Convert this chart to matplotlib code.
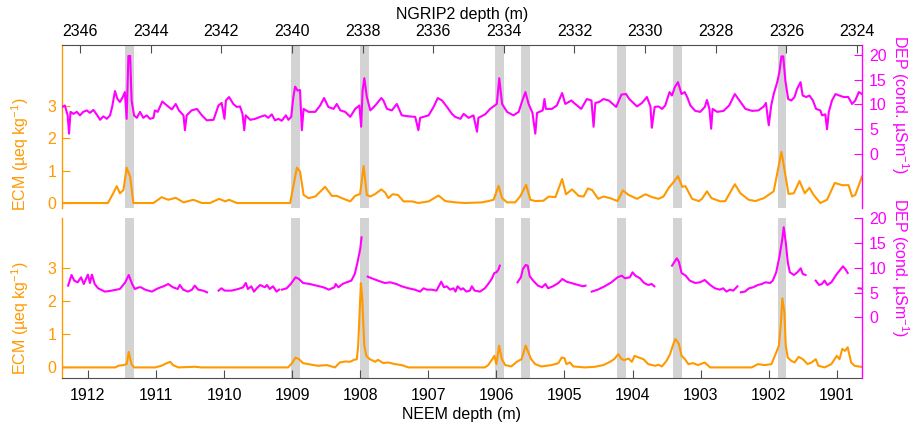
import numpy as np
import matplotlib
matplotlib.use('Agg')
import matplotlib.pyplot as plt
from matplotlib.patches import Rectangle
from matplotlib.transforms import blended_transform_factory

plt.rcParams['font.family'] = 'Liberation Sans'
plt.rcParams['mathtext.fontset'] = 'custom'
plt.rcParams['mathtext.rm'] = 'Liberation Sans'
plt.rcParams['mathtext.it'] = 'Liberation Sans:italic'
plt.rcParams['font.size'] = 11.5

ORANGE = '#FF9900'
MAGENTA = '#FF00FF'
BAND = '#D3D3D3'
AXC = '0.3'

#========== NGRIP2 (top panel), depth in m ==========
ecm_top_depth = [2346.51, 2345.21, 2345.06, 2344.96, 2344.87, 2344.77, 2344.68, 2344.58, 2344.49, 2343.92,
                 2343.69, 2343.50, 2343.29, 2343.07, 2342.79, 2342.55, 2342.32, 2342.06, 2341.89, 2341.78,
                 2341.56, 2340.05, 2339.86, 2339.77, 2339.67, 2339.53, 2339.34, 2339.06, 2338.87, 2338.73,
                 2338.54, 2338.35, 2338.21, 2338.07, 2337.97, 2337.88, 2337.78, 2337.64, 2337.47, 2337.36,
                 2337.27, 2337.15, 2337.00, 2336.84, 2336.60, 2336.42, 2336.13, 2335.85, 2335.66, 2335.38,
                 2335.09, 2334.62, 2334.43, 2334.29, 2334.15, 2334.05, 2333.91, 2333.68, 2333.54, 2333.37,
                 2333.25, 2333.11, 2332.88, 2332.73, 2332.54, 2332.35, 2332.24, 2332.07, 2331.88, 2331.74,
                 2331.62, 2331.50, 2331.33, 2331.18, 2330.99, 2330.78, 2330.63, 2330.47, 2330.23, 2329.99,
                 2329.80, 2329.62, 2329.48, 2329.33, 2329.19, 2329.07, 2328.95, 2328.86, 2328.67, 2328.48,
                 2328.39, 2328.25, 2328.12, 2327.87, 2327.73, 2327.46, 2327.30, 2327.07, 2326.88, 2326.64,
                 2326.36, 2326.14, 2325.94, 2325.79, 2325.63, 2325.48, 2325.35, 2325.23, 2325.04, 2324.85,
                 2324.63, 2324.42, 2324.24, 2324.14, 2324.05, 2323.86]
ecm_top = [0, 0, 0.3, 0.52, 0.3, 0.4, 1.09, 0.81, 0, 0,
           0.18, 0.1, 0.16, 0.02, 0.1, 0, 0, 0.13, 0.05, 0.1,
           0, 0, 1.09, 0.97, 0.25, 0.15, 0.2, 0.5, 0.22, 0.22,
           0.13, 0.05, 0.22, 0.28, 1.14, 0.25, 0.2, 0.28, 0.42, 0.32,
           0.15, 0.27, 0.25, 0.05, 0.05, 0, 0.05, 0.23, 0.06, 0.02,
           0, 0.02, 0.06, 0.1, 0.53, 0.15, 0.02, 0.02, 0.2, 0.56,
           0.1, 0.06, 0.07, 0.2, 0.18, 0.74, 0.27, 0.42, 0.22, 0.2,
           0.45, 0.4, 0.13, 0.2, 0.15, 0.06, 0.39, 0.25, 0.13, 0.27,
           0.18, 0.13, 0.2, 0.47, 0.65, 0.83, 0.5, 0.52, 0.13, 0.06,
           0.13, 0.36, 0.15, 0.05, 0.06, 0.58, 0.3, 0.1, 0.06, 0.15,
           0.36, 1.58, 0.28, 0.3, 0.68, 0.3, 0.47, 0.25, 0, 0.1,
           0.62, 0.55, 0.55, 0.2, 0.25, 0.82]

dep_top_depth = [2346.50, 2346.43, 2346.35, 2346.31, 2346.27, 2346.19, 2346.09, 2346.00, 2345.91, 2345.81,
                 2345.72, 2345.62, 2345.53, 2345.43, 2345.34, 2345.24, 2345.15, 2345.09, 2345.01, 2344.94,
                 2344.87, 2344.79, 2344.73, 2344.68, 2344.63, 2344.58, 2344.54, 2344.47, 2344.39, 2344.30,
                 2344.21, 2344.11, 2344.02, 2343.92, 2343.88, 2343.80, 2343.67, 2343.54, 2343.40, 2343.29,
                 2343.20, 2343.07, 2343.03, 2342.98, 2342.84, 2342.69, 2342.55, 2342.41, 2342.22, 2342.08,
                 2341.99, 2341.91, 2341.87, 2341.78, 2341.66, 2341.56, 2341.47, 2341.40, 2341.35, 2341.31,
                 2341.18, 2341.04,
                 2340.90, 2340.76, 2340.67, 2340.57, 2340.48, 2340.38, 2340.29, 2340.17, 2340.10, 2340.02,
                 2339.96, 2339.91, 2339.84, 2339.77, 2339.72, 2339.67, 2339.53, 2339.34, 2339.20, 2339.09,
                 2338.97, 2338.82, 2338.73, 2338.63, 2338.49, 2338.35, 2338.21, 2338.09, 2338.04, 2338.00,
                 2337.95, 2337.88, 2337.78, 2337.64, 2337.47, 2337.41, 2337.31, 2337.17, 2337.03, 2336.89,
                 2336.70, 2336.51, 2336.42, 2336.37, 2336.13, 2335.99, 2335.87, 2335.75, 2335.61, 2335.47,
                 2335.38, 2335.23, 2335.14, 2335.00, 2334.86, 2334.76, 2334.72, 2334.53, 2334.39, 2334.26,
                 2334.20, 2334.13, 2334.05, 2333.91, 2333.73, 2333.58, 2333.49, 2333.39, 2333.30, 2333.19,
                 2333.11, 2333.06, 2332.90, 2332.85, 2332.81, 2332.64, 2332.50, 2332.35, 2332.26, 2332.09,
                 2331.98, 2331.81, 2331.65, 2331.52, 2331.46, 2331.41, 2331.30, 2331.18, 2331.03, 2330.82,
                 2330.67, 2330.54, 2330.45, 2330.23, 2330.09, 2329.95, 2329.85, 2329.81, 2329.73,
                 2329.62, 2329.52, 2329.43, 2329.31, 2329.24, 2329.16, 2329.07, 2328.97, 2328.88, 2328.81,
                 2328.72, 2328.58, 2328.44, 2328.31, 2328.25, 2328.18, 2328.13, 2328.09, 2327.96, 2327.78,
                 2327.62, 2327.46, 2327.30, 2327.16, 2326.97, 2326.79, 2326.64, 2326.58, 2326.50, 2326.43,
                 2326.36, 2326.26, 2326.20, 2326.14, 2326.09, 2326.03, 2325.95, 2325.86, 2325.77, 2325.70,
                 2325.60, 2325.54, 2325.44, 2325.35, 2325.25, 2325.16, 2325.04, 2324.99, 2324.90, 2324.85,
                 2324.80, 2324.71, 2324.61, 2324.50, 2324.38, 2324.25, 2324.14, 2324.05, 2323.95, 2323.86]
dep_top = [9.5, 9.8, 7.8, 4.1, 8.5, 8.1, 8.5, 7.8, 8.5, 8.8,
           8.3, 8.9, 8.0, 6.9, 7.6, 7.1, 7.8, 9.5, 12.7, 11.1,
           10.5, 11.5, 12.5, 7.1, 19.8, 19.8, 10.8, 7.8, 7.3, 8.5,
           7.3, 7.8, 7.1, 7.3, 8.8, 8.5, 10.6, 9.8, 9.0, 10.1,
           8.8, 7.8, 4.8, 7.8, 8.8, 9.1, 7.8, 6.8, 6.9, 9.8,
           10.3, 7.1, 10.8, 11.5, 10.1, 9.5, 9.6, 8.1, 4.8, 7.8,
           6.9, 7.1,
           7.5, 7.8, 7.3, 8.0, 6.8, 7.1, 6.7, 7.8, 6.9, 7.5,
           11.5, 13.6, 12.8, 12.9, 4.8, 9.1, 8.5, 8.5, 9.8, 11.3,
           9.5, 9.1, 10.1, 8.8, 8.5, 7.5, 9.1, 9.8, 5.5, 12.8,
           15.3, 11.5, 8.8, 9.8, 11.3, 10.8, 9.1, 8.8, 10.1, 7.8,
           7.6, 7.5, 4.8, 7.3, 7.8, 9.5, 11.3, 10.8, 9.5, 8.1,
           7.5, 7.1, 8.1, 7.3, 7.8, 4.5, 7.3, 8.0, 9.1, 9.8,
           10.1, 15.3, 10.1, 8.5, 7.8, 8.5, 10.5, 12.5, 10.1, 8.3,
           4.1, 8.3, 8.8, 11.1, 9.1, 9.1, 9.8, 12.3, 10.1, 10.8,
           10.1, 9.1, 11.1, 10.8, 5.5, 10.3, 10.5, 11.1, 10.8, 9.5,
           12.0, 12.1, 11.1, 9.6, 10.3, 11.5, 9.6, 5.3, 9.5,
           9.6, 9.1, 9.8, 12.5, 11.8, 13.5, 14.5, 12.1, 12.5, 11.5,
           9.8, 8.7, 8.5, 9.5, 10.9, 9.1, 5.1, 9.1, 8.5, 8.7,
           9.8, 12.1, 10.5, 9.1, 8.7, 8.8, 9.6, 10.3, 5.8, 9.8,
           12.1, 14.5, 16.5, 19.7, 19.7, 14.8, 11.1, 10.8, 11.5, 13.1,
           14.5, 11.8, 11.5, 11.8, 10.8, 9.1, 8.8, 7.8, 8.0, 5.0,
           8.5, 10.8, 12.1, 11.8, 11.5, 11.5, 10.1, 10.8, 12.5, 12.1]

#========== NEEM (bottom panel), depth in m, nan = no data ==========
ecm_bot_depth = [1912.38, 1911.60, 1911.55, 1911.48, 1911.43, 1911.40, 1911.36, 1911.32, 1911.01, 1910.92,
                 1910.84, 1910.79, 1910.75, 1910.67, 1910.43, 1910.33, 1909.06, 1909.00, 1908.95, 1908.90,
                 1908.84, 1908.71, 1908.62, 1908.49, 1908.37, 1908.30, 1908.22, 1908.15, 1908.09, 1908.05,
                 1908.03, 1908.00, 1907.99, 1907.97, 1907.94, 1907.91, 1907.86, 1907.78, 1907.74, 1907.66,
                 1907.59, 1907.49, 1907.39, 1907.29, 1906.17, 1906.12, 1906.06, 1906.03, 1906.00, 1905.96,
                 1905.92, 1905.87, 1905.78, 1905.70, 1905.63, 1905.60, 1905.57, 1905.53, 1905.49, 1905.43,
                 1905.34, 1905.19, 1905.09, 1905.04, 1905.00, 1904.97, 1904.92, 1904.87, 1904.70, 1904.55,
                 1904.43, 1904.33, 1904.27, 1904.21, 1904.16, 1904.12, 1904.06, 1904.01, 1903.97, 1903.91,
                 1903.84, 1903.77, 1903.67, 1903.62, 1903.57, 1903.50, 1903.45, 1903.40, 1903.37, 1903.32,
                 1903.28, 1903.23, 1903.18, 1903.11, 1903.04, 1902.94, 1902.86, 1902.25, 1902.16, 1902.06,
                 1901.96, 1901.89, 1901.85, 1901.82, 1901.80, 1901.77, 1901.75, 1901.72, 1901.67, 1901.62,
                 1901.56, 1901.50, 1901.43, 1901.37, 1901.31, 1901.27, 1901.18, 1901.08, 1901.00, 1900.96,
                 1900.92, 1900.88, 1900.84, 1900.79, 1900.74, 1900.59]
ecm_bot = [0, 0, 0.05, 0.07, 0.1, 0.47, 0.1, 0, 0, 0.05,
           0.13, 0.17, 0.07, 0, 0.02, 0, 0, 0.13, 0.3, 0.25,
           0.13, 0.08, 0.05, 0.07, 0, 0.15, 0.18, 0.17, 0.23, 0.25,
           0.66, 2.07, 2.55, 2.07, 0.66, 0.35, 0.25, 0.17, 0.23, 0.13,
           0.15, 0.1, 0.07, 0, 0, 0.07, 0.25, 0.35, 0.1, 0.66,
           0.25, 0.07, 0.03, 0.17, 0.25, 0.45, 0.66, 0.45, 0.25, 0.1,
           0.03, 0.07, 0.13, 0.3, 0.28, 0.1, 0.15, 0.03, 0, 0.02,
           0.07, 0.17, 0.25, 0.4, 0.25, 0.22, 0.27, 0.17, 0.35, 0.3,
           0.25, 0.1, 0.05, 0.08, 0.03, 0.2, 0.4, 0.71, 0.86, 0.71,
           0.35, 0.25, 0.1, 0.13, 0.07, 0.15, 0, 0, 0.1, 0.07,
           0.1, 0.45, 0.66, 1.36, 2.09, 1.67, 0.66, 0.3, 0.2, 0.15,
           0.32, 0.25, 0.1, 0.15, 0.25, 0.05, 0, 0.1, 0.35, 0.25,
           0.56, 0.5, 0.61, 0.15, 0.05, 0]

nan = np.nan
dep_bot_depth = [1912.29, 1912.24, 1912.20, 1912.15, 1912.10, 1912.06, 1912.00, 1911.97, 1911.94, 1911.90,
                 1911.85, 1911.75, 1911.65, 1911.53, 1911.45, 1911.40, 1911.35, 1911.31, 1911.25, 1911.22,
                 1911.16, 1911.06, 1910.97, 1910.89, 1910.82, 1910.75, 1910.68, 1910.65, 1910.60, 1910.53,
                 1910.47, 1910.43, 1910.38, 1910.31, 1910.25, nan,
                 1910.08, 1910.04, 1909.99, 1909.89, 1909.79, 1909.72, 1909.68, 1909.65, 1909.60, 1909.56,
                 1909.52, 1909.47, 1909.40, 1909.37, 1909.33, 1909.28, 1909.23, 1909.19, nan,
                 1909.15, 1909.08, 1909.02, 1908.95, 1908.90, 1908.84, 1908.74, 1908.64, 1908.54, 1908.46,
                 1908.38, 1908.36, 1908.32, 1908.26, 1908.20, 1908.13, 1908.08, 1908.04, 1908.00, 1907.98, nan,
                 1907.89, 1907.83, 1907.74, 1907.64, 1907.56, 1907.47, 1907.39, 1907.29, 1907.20, 1907.12,
                 1907.07, 1907.02, 1906.95, 1906.88, 1906.81, 1906.77, 1906.73, 1906.68, 1906.63, 1906.60,
                 1906.57, 1906.52, 1906.49, 1906.44, 1906.39, 1906.36, 1906.32, 1906.24, 1906.17, 1906.12,
                 1906.07, 1906.03, 1906.00, 1905.97, 1905.95, nan,
                 1905.69, 1905.64, 1905.61, 1905.57, 1905.54, 1905.51, 1905.46, 1905.39, 1905.33, 1905.28,
                 1905.24, 1905.17, 1905.09, 1905.03, 1904.97, 1904.90, 1904.80, 1904.73, 1904.69, nan,
                 1904.60, 1904.51, 1904.41, 1904.31, 1904.22, 1904.16, 1904.11, 1904.04, 1904.00, 1903.96,
                 1903.89, 1903.83, 1903.77, 1903.72, 1903.68, nan,
                 1903.42, 1903.35, 1903.32, 1903.28, 1903.22, 1903.16, 1903.08, 1903.01, 1902.94, 1902.86,
                 1902.79, 1902.72, 1902.67, 1902.62, 1902.57, 1902.52, 1902.46, nan,
                 1902.41, 1902.35, 1902.29, 1902.23, 1902.16, 1902.10, 1902.05, 1901.98, 1901.94, 1901.89,
                 1901.84, 1901.80, 1901.78, 1901.75, 1901.72, 1901.69, 1901.63, 1901.58, 1901.53, 1901.50,
                 1901.46, nan,
                 1901.31, 1901.26, 1901.22, 1901.18, 1901.14, 1901.08, 1901.00, 1900.96, 1900.91, 1900.87,
                 1900.84, nan,
                 1900.68, 1900.59]
dep_bot = [6.4, 8.55, 7.41, 7.07, 8.08, 6.73, 8.62, 6.93, 8.62, 6.73,
           5.86, 5.19, 5.39, 5.72, 7.07, 8.55, 6.73, 5.72, 6.06, 6.06,
           5.59, 5.19, 5.86, 6.26, 6.73, 6.06, 5.72, 6.53, 5.59, 5.19,
           5.59, 6.4, 5.59, 5.39, 5.05, nan,
           5.39, 5.86, 5.39, 5.39, 5.72, 6.06, 6.93, 5.72, 6.26, 5.19,
           5.86, 6.53, 6.06, 6.53, 5.72, 6.26, 5.19, 5.59, nan,
           5.59, 5.86, 6.73, 8.08, 7.74, 6.93, 6.73, 6.4, 6.06, 5.59,
           6.06, 6.73, 6.06, 6.73, 7.07, 7.41, 8.75, 11.1, 13.8, 16.16, nan,
           8.21, 7.88, 7.41, 6.93, 7.07, 6.73, 6.26, 5.86, 5.59, 5.19,
           5.86, 5.59, 5.59, 5.39, 7.2, 6.06, 6.26, 5.59, 5.86, 5.19,
           6.26, 5.59, 5.86, 5.19, 5.39, 6.26, 5.39, 5.19, 5.86, 6.73,
           7.74, 8.95, 9.09, 9.63, 10.43, nan,
           7.07, 8.08, 9.77, 10.57, 10.43, 8.28, 7.41, 6.4, 6.06, 6.73,
           5.86, 6.26, 6.93, 7.74, 7.2, 6.93, 6.53, 6.26, 6.4, nan,
           5.19, 5.59, 6.26, 7.07, 8.08, 8.42, 7.88, 8.08, 9.09, 8.42,
           7.88, 6.93, 6.53, 6.73, 6.26, nan,
           10.43, 11.92, 11.25, 8.95, 8.42, 7.41, 6.93, 7.07, 7.54, 6.53,
           5.86, 5.59, 5.86, 5.19, 5.59, 5.39, 6.26, nan,
           5.05, 5.19, 5.86, 6.06, 6.53, 6.73, 7.07, 6.93, 7.41, 9.09,
           12.46, 15.83, 18.18, 15.15, 11.1, 9.09, 8.55, 9.09, 9.9, 8.75,
           8.55, nan,
           7.41, 6.53, 6.73, 7.41, 6.53, 7.07, 8.75, 9.43, 10.3, 9.63,
           8.95, nan,
           5.86, 5.72]

# matched volcanic layers, NEEM depth (m)
band_start = [1911.46, 1909.02, 1908.00, 1906.02, 1905.64, 1904.23, 1903.41, 1901.87]
band_end = [1911.32, 1908.89, 1907.87, 1905.89, 1905.51, 1904.10, 1903.28, 1901.74]

ngrip_ticks = np.arange(2346, 2323, -2)
neem_ticks = np.arange(1912, 1900, -1)

#====== Plot =======
fig = plt.figure(figsize=(9.12, 4.22), dpi=100)
ax_top = fig.add_axes([62/912, 1 - 208/422, 800/912, 163/422])
ax_bot = fig.add_axes([62/912, 1 - 378/422, 800/912, 160/422])
ax_top_r = ax_top.twinx()
ax_bot_r = ax_bot.twinx()

ax_top.set_xlim(2346.51, 2323.86)
ax_bot.set_xlim(1912.38, 1900.63)
ax_top.set_ylim(-0.154, 4.877)
ax_top_r.set_ylim(-10.9, 22.0)
ax_bot.set_ylim(-0.32, 4.52)
ax_bot_r.set_ylim(-12.26, 20.06)

# grey bands, placed on the NEEM depth scale in both panels
band_trans = blended_transform_factory(ax_bot.transData, ax_top.transAxes)
for s, e in zip(band_start, band_end):
    ax_bot.axvspan(s, e, color=BAND, lw=0, zorder=0)
    ax_top.add_patch(Rectangle((s, 0), e - s, 1, transform=band_trans,
                               color=BAND, lw=0, zorder=0))

ax_top.plot(ecm_top_depth, ecm_top, color=ORANGE, lw=1.5)
ax_top_r.plot(dep_top_depth, dep_top, color=MAGENTA, lw=1.5)
ax_bot.plot(ecm_bot_depth, ecm_bot, color=ORANGE, lw=1.5)
ax_bot_r.plot(dep_bot_depth, dep_bot, color=MAGENTA, lw=1.5)

for ax, ax_r, panel_top in [(ax_top, ax_top_r, True), (ax_bot, ax_bot_r, False)]:
    for sp in ax_r.spines.values():
        sp.set_visible(False)
    ax_r.spines['right'].set_visible(True)
    ax_r.spines['right'].set_color(MAGENTA)
    ax.spines['right'].set_visible(False)
    ax.spines['left'].set_color(ORANGE)
    ax.spines['left'].set_linewidth(1.0)
    ax_r.spines['right'].set_linewidth(1.0)
    if panel_top:
        ax.spines['bottom'].set_visible(False)
        ax.spines['top'].set_color(AXC)
    else:
        ax.spines['top'].set_visible(False)
        ax.spines['bottom'].set_color(AXC)

    ax.set_yticks([0, 1, 2, 3])
    ax_r.set_yticks([0, 5, 10, 15, 20])
    ax.tick_params(axis='y', direction='in', length=6, colors=ORANGE, pad=4)
    ax_r.tick_params(axis='y', direction='in', length=6, colors=MAGENTA, pad=5)

    ax.set_ylabel('ECM (µeq kg$^{-1}$)', color=ORANGE, va='center', ha='center')
    lo, hi = ax.get_ylim()
    ax.yaxis.set_label_coords(-0.0525, (1.5 - lo) / (hi - lo))
    ax_r.set_ylabel('DEP (cond. µSm$^{-1}$)', color=MAGENTA, rotation=270,
                    va='center', ha='center')
    lo, hi = ax_r.get_ylim()
    ax_r.yaxis.set_label_coords(1.047, (10 - lo) / (hi - lo))

ax_top.set_xticks(ngrip_ticks)
ax_top.tick_params(axis='x', bottom=False, labelbottom=False, top=True, labeltop=True,
                   direction='in', length=6, color=AXC, pad=4)
ax_top.xaxis.set_label_position('top')
ax_top.set_xlabel('NGRIP2 depth (m)', labelpad=4)

ax_bot.set_xticks(neem_ticks)
ax_bot.tick_params(axis='x', direction='in', length=6, color=AXC, pad=7)
ax_bot.set_xlabel('NEEM depth (m)', labelpad=3)

plt.savefig('out.png', dpi=100)
